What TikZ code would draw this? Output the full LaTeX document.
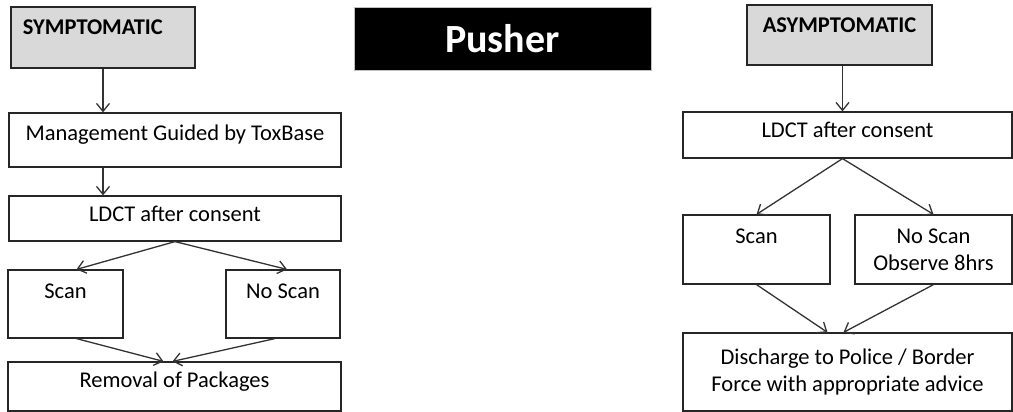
\documentclass[tikz,border=0pt]{standalone}
\usepackage{fontspec}
\setmainfont{Carlito}
\usetikzlibrary{arrows.meta}
\definecolor{headgray}{HTML}{D9D9D9}
\definecolor{framegray}{HTML}{C0C0C0}
\newcommand\boxfont{\fontsize{22.5}{27}\selectfont}

\begin{document}
\begin{tikzpicture}[x=1pt, y=-1pt,
    box/.style={draw=black!85, line width=1.2pt, inner sep=0pt, font=\boxfont},
    head/.style={box, fill=headgray, font=\boxfont\bfseries},
    arr/.style={-{Straight Barb[length=8pt,width=13pt]}, line width=1.3pt, draw=black!80}]
  \useasboundingbox (0,0) rectangle (1013,412);
  \node[head, minimum width=184pt, text width=160pt, inner xsep=12pt, align=left,
    text height=28pt, text depth=33pt] (sym) at (103,37.5) {SYMPTOMATIC};
  \node[box, minimum width=332pt, text height=27pt, text depth=27pt] (mgmt) at (175,140)
    {Management Guided by ToxBase};
  \node[box, minimum width=332pt, text height=25pt, text depth=20pt] (ldctL) at (175,218.5)
    {LDCT after consent};
  \node[box, minimum width=115pt, text height=28pt, text depth=40pt] (scanL) at (65.5,304) {Scan};
  \node[box, minimum width=114pt, text height=28pt, text depth=40pt] (noscanL) at (283,304) {No Scan};
  \node[box, minimum width=333pt, text height=25pt, text depth=24pt] (removal) at (174.5,386.5)
    {Removal of Packages};

  \node[box, fill=black, draw=framegray, line width=1pt, text=white, minimum width=297pt,
    font=\fontsize{40}{48}\selectfont\bfseries, text height=45pt, text depth=18pt] (pusher)
    at (502.5,39.5) {Pusher};

  \node[head, minimum width=185pt, text height=28pt, text depth=32pt] (asym) at (839.5,35)
    {ASYMPTOMATIC};
  \node[box, minimum width=329pt, text height=25pt, text depth=21pt] (ldctR) at (847.5,135)
    {LDCT after consent};
  \node[box, minimum width=147pt, text height=28pt, text depth=41pt] (scanR) at (756.5,249.5) {Scan};
  \node[box, minimum width=157pt, minimum height=69pt, align=center] (noscanR) at (933.5,249.5)
    {No Scan\\Observe 8hrs};
  \node[box, minimum width=329pt, minimum height=78pt, align=center] (discharge) at (847.5,372)
    {Discharge to Police / Border\\Force with appropriate advice};

  \draw[arr] (sym.south) -- (sym.south |- mgmt.north);
  \draw[arr] (sym.south |- mgmt.south) -- (sym.south |- ldctL.north);
  \draw[arr] (ldctL.south) -- ([xshift=11pt]scanL.north);
  \draw[arr] (ldctL.south) -- ([xshift=4pt]noscanL.north);
  \draw[arr] ([xshift=11pt]scanL.south) -- ([xshift=-11pt]removal.north);
  \draw[arr] ([xshift=-8pt]noscanL.south) -- ([xshift=-2pt]removal.north);

  \draw[arr] ([xshift=3pt]asym.south) -- ([xshift=3pt]asym.south |- ldctR.north);
  \draw[arr] ([xshift=-5pt]ldctR.south) -- (scanR.north);
  \draw[arr] ([xshift=-5pt]ldctR.south) -- (noscanR.north);
  \draw[arr] (scanR.south) -- ([xshift=-20pt]discharge.north);
  \draw[arr] (noscanR.south) -- ([xshift=-4pt]discharge.north);
\end{tikzpicture}
\end{document}
